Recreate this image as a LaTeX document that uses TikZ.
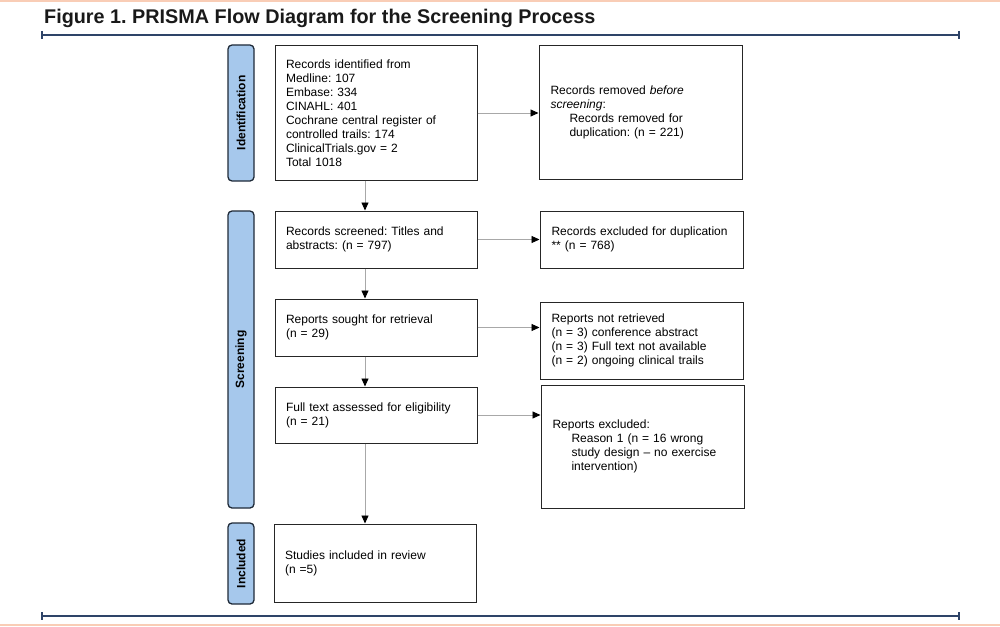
\documentclass[tikz,border=0pt]{standalone}
\usepackage{fontspec}
\setmainfont{Liberation Sans}
\usepackage{xcolor}
\usetikzlibrary{arrows.meta}
\frenchspacing

\definecolor{navyrule}{HTML}{2E4468}
\definecolor{peach}{HTML}{F9CDB6}
\definecolor{stagefill}{HTML}{A6C8EC}
\definecolor{stageedge}{HTML}{1F2A38}
\definecolor{linkgray}{HTML}{A8A8A8}

\begin{document}
\begin{tikzpicture}[x=1pt,y=-1pt,
		stagebox/.style={draw=stageedge, line width=1.3pt, fill=stagefill, rounded corners=4pt,
			rotate=90, minimum height=26pt, inner sep=0pt, font=\bfseries\fontsize{12}{14}\selectfont},
		flowbox/.style={draw=black!85, line width=1pt, minimum width=202pt, text width=180pt,
			inner xsep=11pt, inner ysep=0pt, align=left, font=\fontsize{12}{14}\selectfont},
		link/.style={draw=linkgray, line width=0.9pt, -{Triangle[length=8pt,width=7pt,color=black]}}
	]
		\useasboundingbox (0,0) rectangle (1000,626);
		\fill[peach] (0,0) rectangle (1000,2.5);
		\fill[peach] (0,623.5) rectangle (1000,626);

		% title and rules
		\node[anchor=base west, inner sep=0pt, font=\bfseries\fontsize{19.8}{22}\selectfont, text=black!90] (title) at (44,24) {Figure 1. PRISMA Flow Diagram for the Screening Process};
		\draw[navyrule, line width=2.2pt] (42,35) -- (959,35);
		\draw[navyrule, line width=1.5pt] (42,31) -- (42,39) (959,31) -- (959,39);
		\draw[navyrule, line width=2.2pt] (42,616) -- (959,616);
		\draw[navyrule, line width=1.5pt] (42,612) -- (42,620) (959,612) -- (959,620);

		% stages
		\node[stagebox, minimum width=136pt] (ident) at (241,113) {Identification};
		\node[stagebox, minimum width=297pt] (screen) at (241,359.5) {Screening};
		\node[stagebox, minimum width=81pt] (incl) at (241,563.5) {Included};

		% main column
		\node[flowbox, minimum height=134pt] (found) at (376,113) {Records identified from\\Medline: 107\\Embase: 334\\CINAHL: 401\\Cochrane central register of\\controlled trails: 174\\ClinicalTrials.gov = 2\\Total 1018};
		\node[flowbox, minimum height=57pt] (screened) at (376,239.5) {Records screened: Titles and\\abstracts: (n = 797)};
		\node[flowbox, minimum height=57pt] (sought) at (376,327.5) {Reports sought for retrieval\\(n = 29)};
		\node[flowbox, minimum height=56pt] (assessed) at (376,415) {Full text assessed for eligibility\\(n = 21)};
		\node[flowbox, minimum height=78pt] (studies) at (375,563) {Studies included in review\\(n =5)};

		% side column
		\node[flowbox, minimum width=203pt, minimum height=133pt] (removed) at (640.5,112.5) {Records removed \emph{before}\\\emph{screening}:\\\hspace*{19pt}Records removed for\\\hspace*{19pt}duplication: (n = 221)};
		\node[flowbox, minimum width=203pt, minimum height=57pt] (dupl) at (641.5,239.5) {Records excluded for duplication\\{*}{*} (n = 768)};
		\node[flowbox, minimum width=203pt, minimum height=77pt] (notret) at (641.5,340.5) {Reports not retrieved\\(n = 3) conference abstract\\(n = 3) Full text not available\\(n = 2) ongoing clinical trails};
		\node[flowbox, minimum width=203pt, minimum height=123pt] (excl) at (642.5,446.5) {Reports excluded:\\\hspace*{19pt}Reason 1 (n = 16 wrong\\\hspace*{19pt}study design -- no exercise\\\hspace*{19pt}intervention)};

		% arrows
		\draw[link] (found.east) -- (found.east -| removed.west);
		\draw[link] (screened.east) -- (screened.east -| dupl.west);
		\draw[link] (sought.east) -- (sought.east -| notret.west);
		\draw[link] (assessed.east) -- (assessed.east -| excl.west);
		\draw[link] ([xshift=-11pt]found.south) -- ([xshift=-11pt]found.south |- screened.north);
		\draw[link] ([xshift=-11pt]screened.south) -- ([xshift=-11pt]screened.south |- sought.north);
		\draw[link] ([xshift=-11pt]sought.south) -- ([xshift=-11pt]sought.south |- assessed.north);
		\draw[link] ([xshift=-11pt]assessed.south) -- ([xshift=-11pt]assessed.south |- studies.north);
	\end{tikzpicture}
\end{document}
